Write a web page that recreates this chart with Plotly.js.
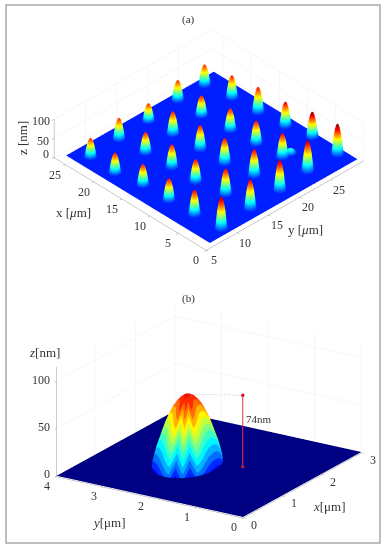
<!DOCTYPE html>
<html><head><meta charset="utf-8">
<script src="https://cdn.plot.ly/plotly-3.0.1.min.js"></script>
<style>html,body{margin:0;padding:0;background:#fff}#c{width:387px;height:550px}</style>
</head><body><div id="c"></div>
<script>
// ---- panel (a): bump array, row by row from the near corner, last entry is the small blip
const bumpX = [1.9,2.47,2.71,3.18,3.18, 6.33,6.73,7.1,7.48,7.99, 10.73,11.23,11.53,11.79,11.93, 15.23,15.43,15.73,16.03,16.33, 19.43,19.89,20.33,20.73,20.78, 23.93,24.19,24.43,25.03,25.03, 7.4];
const bumpY = [9.12,14.3,19.24,24.15,28.94, 8.83,14.19,19.11,24,29.24, 8.71,13.44,18.38,23.67,28.49, 8.6,13.43,18.25,23.35,28.09, 7.93,13.24,18.03,22.97,27.91, 8.07,12.87,17.82,23.07,27.37, 25.2];
const bumpH = [85,76,80,82,81, 66,68,70,63,66, 57,59,66,60,64, 55,60,63,57,67, 53,54,60,52,59, 50,56,46,53,54, 12];
const bumpTone = [88,80,86,86,93, 80,80,80,80,91, 78,78,78,78,82, 76,76,76,76,78, 76,76,76,76,76, 74,74,74,74,74, 28];
const bumpProfile = [1,.98,.92,.83,.7,.54,.32,0];
const floorA = {xMin:.75, xMax:26.25, yMin:6.25, yMax:30, step:.1};
const ticksAx = [0,5,10,15,20,25];
const ticksAy = [5,10,15,20,25];
const ticksZ = [0,50,100];
// ---- panel (b): single bump
const ringRadius = [0,.06,.12,.18,.24,.30,.36,.42,.47,.51,.54,.57,.58,.581];
const ringHeight = [74,73.5,71,67,62,55,47,37,28,21,14,7,3,0];
const ringLobe =   [0,2,5,8,10,12,13,14,14,14,14,14,14,14];
const lobeByAngle = [1,.5,0,.5,1,.85,.6,.35,.15,.05,0,0,.05,.15,.35,.6,.8,.95,1,.8,.5,.2,0,.2,.5,.8,1,.8,.5,.2,0];
const bumpCentre = {x:1.33, y:2.32};
const viewFrontDeg = 212.4;
const markerLine = {x:1.61, y:1.37, top:77};
const apexHeight = 74;
const colourLift = 20;
const ticksBx = [0,1,2,3];
const ticksBy = [0,1,2,3,4];
const jetTable = [[0,0,131],[0,0,255],[0,127,255],[0,255,255],[127,255,127],[255,255,0],[255,127,0],[255,0,0],[127,0,0]];

function jetAt(t){const p=t*(jetTable.length-1),i=Math.min(Math.floor(p),jetTable.length-2),f=p-i;
  const c=jetTable[i].map((v,k)=>Math.round(v+(jetTable[i+1][k]-v)*f));return `rgb(${c})`;}
const jetSmooth=[];for(let i=0;i<=32;i++)jetSmooth.push([i/32,jetAt(i/32)]);
const jetSteps=[];const nB=15;for(let i=0;i<nB;i++){const c=jetAt((i+.5)/nB);jetSteps.push([i/nB,c],[(i+1)/nB,c]);}

// grid (a): stamp each bump's ring profile on the grid
const gx=[],gy=[];
for(let i=0;floorA.xMin+i*floorA.step<=floorA.xMax+1e-6;i++)gy.push(floorA.xMin+i*floorA.step);
for(let i=0;floorA.yMin+i*floorA.step<=floorA.yMax+1e-6;i++)gx.push(floorA.yMin+i*floorA.step);
const gz=gy.map(()=>gx.map(()=>0));
const gc=gy.map(()=>gx.map(()=>0));
bumpH.forEach((h,b)=>{const n=bumpProfile.length;
 gy.forEach((py,i)=>gx.forEach((px,j)=>{
  const r=Math.hypot(px-bumpY[b],py-bumpX[b])/floorA.step;
  if(r<n-1){const k=Math.floor(r),f=r-k,p=bumpProfile[k]*(1-f)+bumpProfile[k+1]*f;
    if(h*p>gz[i][j]){gz[i][j]=h*p;gc[i][j]=bumpTone[b]*p;}}
 }));});

const noLight={ambient:1,diffuse:0,specular:0,roughness:1,fresnel:0};
const traceA={type:'surface',scene:'scene',x:gx,y:gy,z:gz,surfacecolor:gc,colorscale:jetSmooth,cmin:-17,cmax:92,showscale:false,hoverinfo:'skip',lighting:noLight};

// panel (b) floor + bump on a polar mesh
const floorB={type:'surface',scene:'scene2',x:[0,3],y:[0,4],z:[[0,0],[0,0]],surfacecolor:[[0,0],[0,0]],colorscale:jetSmooth,cmin:0,cmax:80,showscale:false,hoverinfo:'skip',lighting:noLight};
const mx=[],my=[],mz=[],mc=[];
const nSect=lobeByAngle.length-1;
ringRadius.forEach((r,i)=>{const rx=[],ry=[],rz=[],rc=[];
 for(let j=-nSect;j<=nSect;j++){const th=(viewFrontDeg+j*6)*Math.PI/180;
  rx.push(bumpCentre.x+r*Math.cos(th));ry.push(bumpCentre.y+r*Math.sin(th));rz.push(ringHeight[i]);
  rc.push(ringHeight[i]+colourLift+ringLobe[i]*(lobeByAngle[Math.abs(j)]-.6));}
 mx.push(rx);my.push(ry);mz.push(rz);mc.push(rc);});
const traceB={type:'surface',scene:'scene2',x:mx,y:my,z:mz,surfacecolor:mc,colorscale:jetSteps,cmin:0,cmax:108,showscale:false,hoverinfo:'skip',lighting:noLight};
const redLine={type:'scatter3d',scene:'scene2',mode:'lines+markers',x:[markerLine.x,markerLine.x],y:[markerLine.y,markerLine.y],z:[.5,markerLine.top],line:{color:'#e8304a',width:2},marker:{color:'#d01020',size:2},hoverinfo:'skip',showlegend:false};
const dotLine={type:'scatter3d',scene:'scene2',mode:'lines',x:[bumpCentre.x,markerLine.x],y:[bumpCentre.y,markerLine.y],z:[apexHeight,markerLine.top],line:{color:'#888',width:1,dash:'dot'},hoverinfo:'skip',showlegend:false};

const FONT='"Liberation Serif","DejaVu Serif",serif';
const axisBase=(range,tickvals,title)=>({range,tickvals,ticktext:tickvals.map(()=>''),showticklabels:false,title:{text:''},showbackground:false,showspikes:false,zeroline:false,gridcolor:'#eeeeee',gridwidth:1,showline:true,linecolor:'#999',linewidth:1,ticks:'outside',ticklen:3,tickcolor:'#999',tickwidth:1,autorange:false});
const eyeOf=(alpha,eps,d)=>{const a=alpha*Math.PI/180,e=eps*Math.PI/180;return{x:-Math.sin(a)*Math.cos(e)*d,y:-Math.cos(a)*Math.cos(e)*d,z:Math.sin(e)*d};};
const tick=(x,y,z,text,xs,ys,size)=>({x,y,z,text:String(text),showarrow:false,xshift:xs,yshift:ys,font:{family:FONT,size:size||12,color:'#333'}});

const annA=[...ticksAx.map(v=>tick(5,v,0,v,-10,-11)),...ticksAy.map(v=>tick(v,0,0,v,8,-11)),...ticksZ.map(v=>tick(5,27,v,v,-6 - String(v).length*2.5,v==0?2.5:(v==50?-3:-2)))];
const annB=[...ticksBx.map(v=>tick(v,0,0,v,11,-8)),...ticksBy.map(v=>tick(0,v,0,v,-9,-10)),...ticksZ.map(v=>tick(0,4,v,v,-6-String(v).length*3,1.5))];

const py=p=>1-p/550, px=p=>p/387;
const label=(text,x,y,size)=>({xref:'paper',yref:'paper',x:px(x),y:py(y),text,showarrow:false,xanchor:'center',yanchor:'middle',font:{family:FONT,size:size||13,color:'#333'}});

const layout={width:387,height:550,margin:{l:0,r:0,t:0,b:0},paper_bgcolor:'#fff',showlegend:false,
 scene:{domain:{x:[31/387,1],y:[py(269.5),py(9.5)]},aspectmode:'manual',aspectratio:{x:1.685,y:1.685,z:.367},
   camera:{eye:eyeOf(44,36,1.2),center:{x:0,y:0,z:0},up:{x:0,y:0,z:1},projection:{type:'orthographic'}},
   xaxis:axisBase([5,30.3],ticksAy),yaxis:axisBase([0,27],ticksAx),zaxis:axisBase([-1,100],ticksZ),annotations:annA},
 scene2:{domain:{x:[31/387,1],y:[py(540),py(280)]},aspectmode:'manual',aspectratio:{x:1.7,y:1.7,z:.9},
   camera:{eye:eyeOf(57.6,20.4,1.2),center:{x:0,y:0,z:0},up:{x:0,y:0,z:1},projection:{type:'orthographic'}},
   xaxis:axisBase([0,3],ticksBx),yaxis:axisBase([0,4],ticksBy),zaxis:axisBase([-1,115],ticksZ),annotations:annB},
 shapes:[{type:'rect',xref:'paper',yref:'paper',x0:px(6),x1:px(380),y0:py(543),y1:py(5),line:{color:'#a8a8a8',width:1.5},fillcolor:'rgba(0,0,0,0)'}],
 annotations:[label('(a)',188,19,11),label('(b)',188,299,11),
  label('x [<i>μ</i>m]',73,213),label('y [<i>μ</i>m]',305,229),
  {...label('z [nm]',22,138),textangle:-90},
  label('<i>z</i>[nm]',44,352),label('<i>y</i>[μm]',109,522),label('<i>x</i>[μm]',329,506),
  label('74nm',259,419,11)]
};
Plotly.newPlot('c',[traceA,floorB,traceB,dotLine,redLine],layout,{displayModeBar:false});
</script></body></html>
